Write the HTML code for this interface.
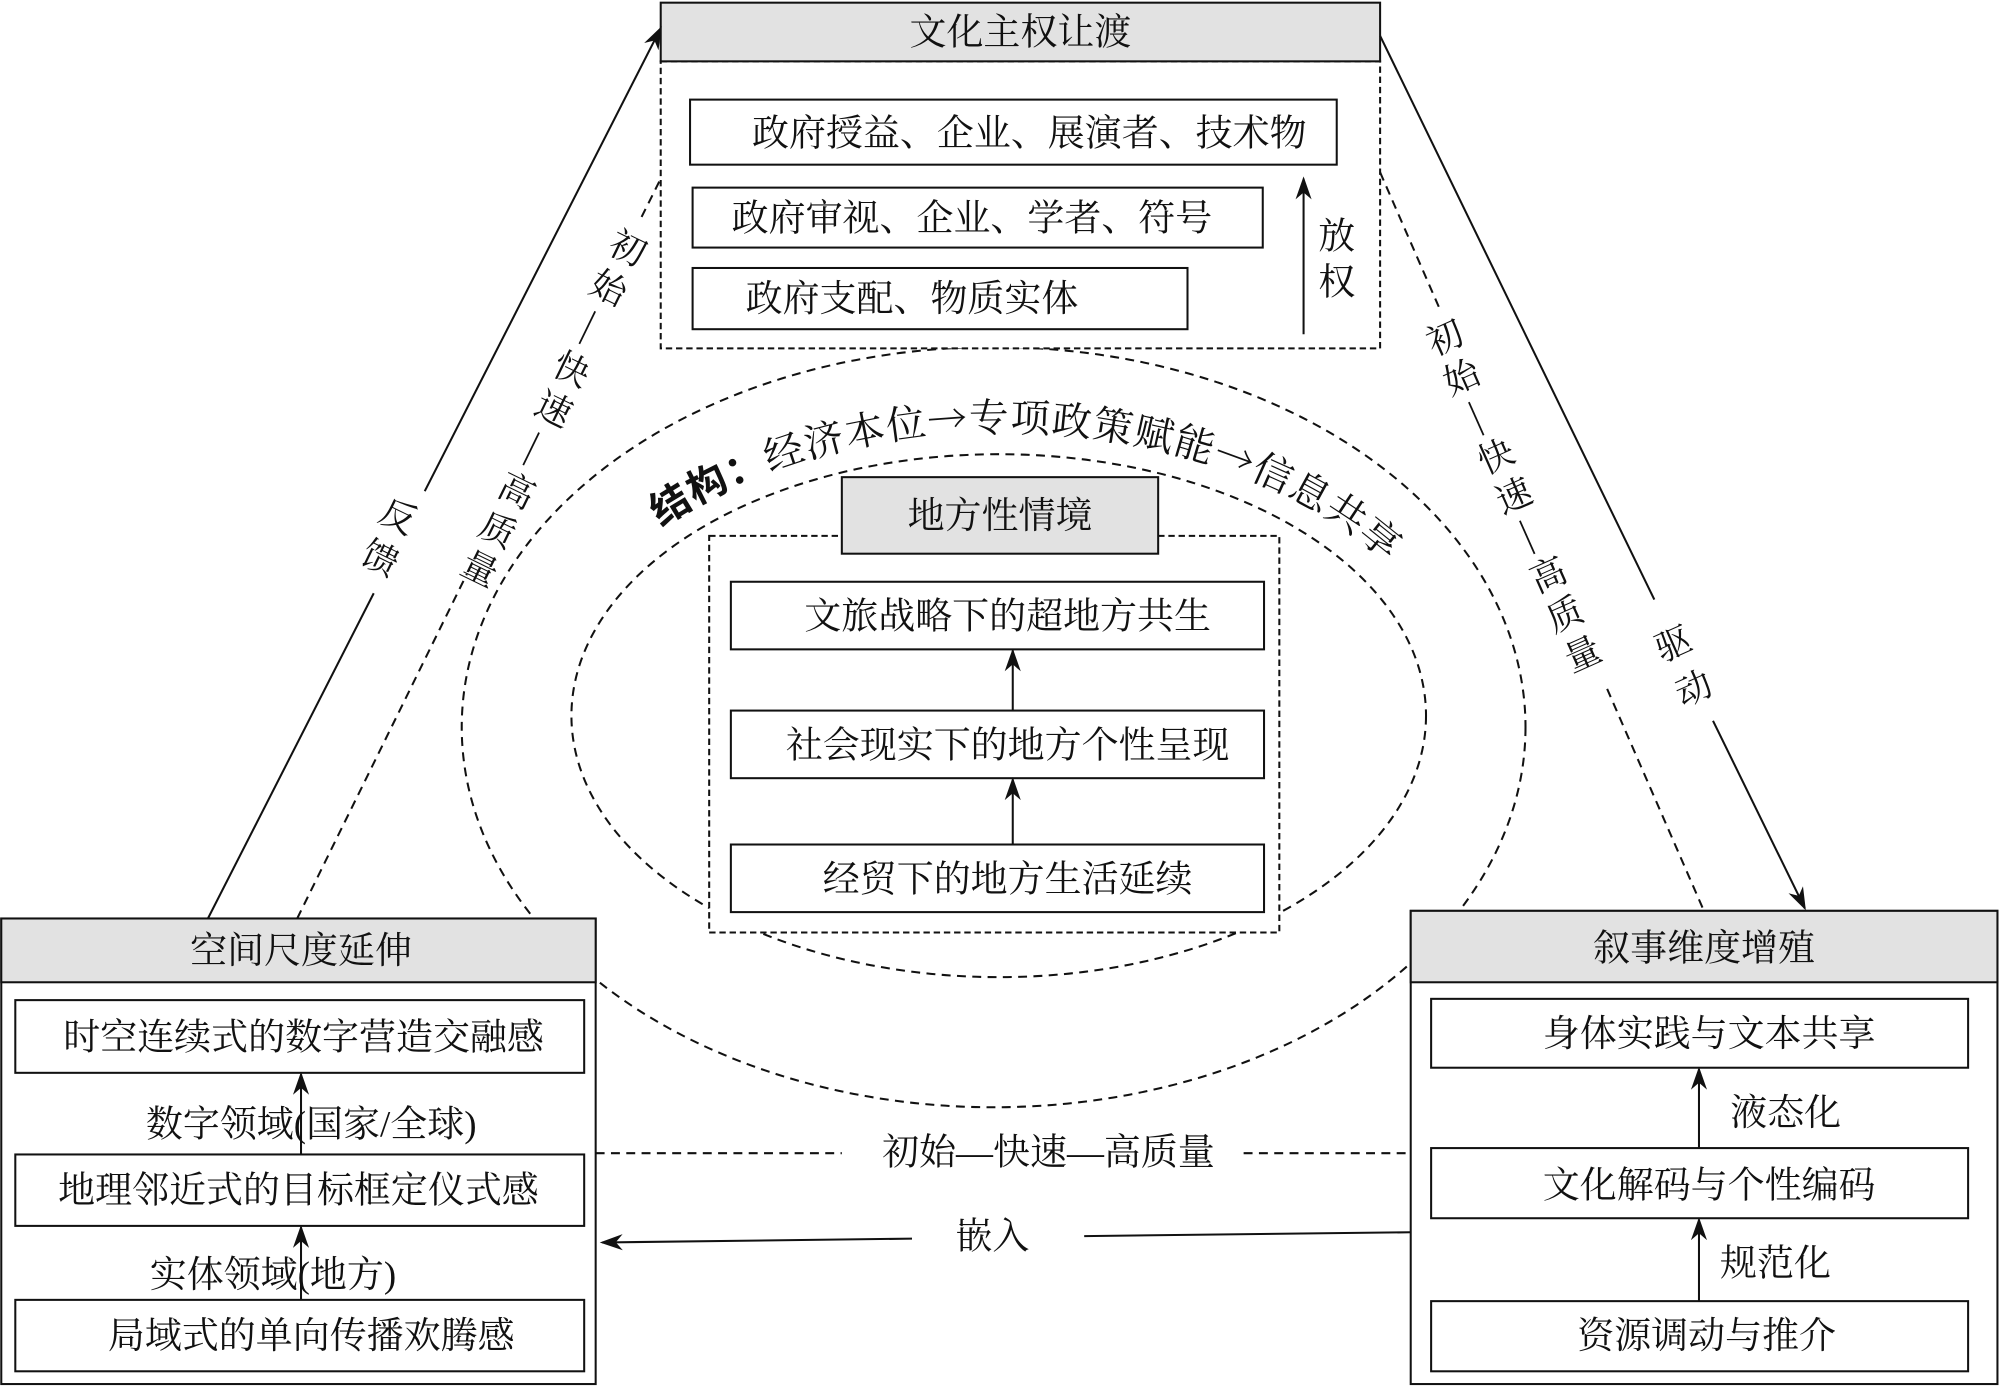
<!DOCTYPE html>
<html><head><meta charset="utf-8"><style>
html,body{margin:0;padding:0;background:#fff}
svg{display:block}
text{font-family:"Liberation Serif","Noto Serif CJK SC",serif;fill:#111}
</style></head><body>
<svg width="2000" height="1388" viewBox="0 0 1568 1088" xmlns="http://www.w3.org/2000/svg">
<defs>
<marker id="ab" viewBox="0 0 10 10" refX="9" refY="5" markerWidth="18" markerHeight="18" orient="auto" markerUnits="userSpaceOnUse"><path d="M0,1.5 L10,5 L0,8.5 L3,5 z" fill="#111"/></marker>
<path id="arc" d="M470,452 A385,268 0 0 1 1100,452" fill="none"/>
</defs>
<g stroke="#111" stroke-width="1.6" fill="none">
<ellipse cx="779" cy="570" rx="417" ry="298" stroke-dasharray="7,5"/>
<ellipse cx="783" cy="561" rx="335" ry="205" stroke-dasharray="7,5"/>
<rect x="518" y="48" width="564" height="225" fill="#fff" stroke-dasharray="5,3"/>
<rect x="518" y="2" width="564" height="46" fill="#e2e2e2"/>
<rect x="541" y="78" width="507" height="51" fill="#fff"/>
<rect x="543" y="147" width="447" height="47" fill="#fff"/>
<rect x="543" y="210" width="388" height="48" fill="#fff"/>
<line x1="1022" y1="262" x2="1022" y2="140" marker-end="url(#ab)"/>
<rect x="556" y="420" width="447" height="311" fill="#fff" stroke-dasharray="5,3"/>
<rect x="660" y="374" width="248" height="60" fill="#e2e2e2"/>
<rect x="573" y="456" width="418" height="53" fill="#fff"/>
<rect x="573" y="557" width="418" height="53" fill="#fff"/>
<rect x="573" y="662" width="418" height="53" fill="#fff"/>
<line x1="794" y1="557" x2="794" y2="510" marker-end="url(#ab)"/>
<line x1="794" y1="662" x2="794" y2="611" marker-end="url(#ab)"/>
<rect x="1" y="720" width="466" height="365" fill="#fff"/>
<rect x="1" y="720" width="466" height="50" fill="#e2e2e2"/>
<rect x="12" y="784" width="446" height="57" fill="#fff"/>
<rect x="12" y="905" width="446" height="56" fill="#fff"/>
<rect x="12" y="1019" width="446" height="56" fill="#fff"/>
<line x1="236" y1="905" x2="236" y2="842" marker-end="url(#ab)"/>
<line x1="236" y1="1019" x2="236" y2="962" marker-end="url(#ab)"/>
<rect x="1106" y="714" width="460" height="371" fill="#fff"/>
<rect x="1106" y="714" width="460" height="56" fill="#e2e2e2"/>
<rect x="1122" y="783" width="421" height="54" fill="#fff"/>
<rect x="1122" y="900" width="421" height="55" fill="#fff"/>
<rect x="1122" y="1020" width="421" height="55" fill="#fff"/>
<line x1="1332" y1="900" x2="1332" y2="838" marker-end="url(#ab)"/>
<line x1="1332" y1="1020" x2="1332" y2="956" marker-end="url(#ab)"/>
<line x1="163" y1="720" x2="293" y2="465"/>
<line x1="333" y1="385" x2="518" y2="22" marker-end="url(#ab)"/>
<line x1="233" y1="720" x2="366" y2="450" stroke-dasharray="7,5"/>
<line x1="503" y1="170" x2="518" y2="140" stroke-dasharray="7,5"/>
<line x1="1082" y1="28" x2="1297" y2="470"/>
<line x1="1343" y1="565" x2="1415" y2="712" marker-end="url(#ab)"/>
<line x1="1082" y1="135" x2="1130" y2="245" stroke-dasharray="7,5"/>
<line x1="1260" y1="540" x2="1335" y2="712" stroke-dasharray="7,5"/>
<line x1="467" y1="904" x2="660" y2="904" stroke-dasharray="7,5"/>
<line x1="975" y1="904" x2="1106" y2="904" stroke-dasharray="7,5"/>
<line x1="1106" y1="966" x2="850" y2="969"/>
<line x1="715" y1="971" x2="472" y2="974" marker-end="url(#ab)"/>
</g>
<g font-size="29" text-anchor="middle" dominant-baseline="central">
<text x="800" y="25">文化主权让渡</text>
<text x="807" y="104">政府授益、企业、展演者、技术物</text>
<text x="762" y="171">政府审视、企业、学者、符号</text>
<text x="715" y="234">政府支配、物质实体</text>
<text x="1048" y="185">放</text>
<text x="1048" y="221">权</text>
<text x="784" y="404">地方性情境</text>
<text x="790" y="483">文旅战略下的超地方共生</text>
<text x="790" y="584">社会现实下的地方个性呈现</text>
<text x="790" y="689">经贸下的地方生活延续</text>
<text x="236" y="745">空间尺度延伸</text>
<text x="238" y="813">时空连续式的数字营造交融感</text>
<text x="244" y="881">数字领域(国家/全球)</text>
<text x="234" y="933">地理邻近式的目标框定仪式感</text>
<text x="214" y="999">实体领域(地方)</text>
<text x="244" y="1047">局域式的单向传播欢腾感</text>
<text x="1336" y="743">叙事维度增殖</text>
<text x="1340" y="810">身体实践与文本共享</text>
<text x="1400" y="872">液态化</text>
<text x="1340" y="929">文化解码与个性编码</text>
<text x="1392" y="990">规范化</text>
<text x="1338" y="1047">资源调动与推介</text>
<text x="822" y="903">初始—快速—高质量</text>
<text x="778" y="969">嵌入</text>
</g>
<g font-size="28" text-anchor="middle" dominant-baseline="central">
<text x="492" y="195" transform="rotate(26 492 195)">初</text>
<text x="477" y="226" transform="rotate(26 477 226)">始</text>
<text x="463" y="258" transform="rotate(116 463 258)">—</text>
<text x="448" y="290" transform="rotate(26 448 290)">快</text>
<text x="434" y="321" transform="rotate(26 434 321)">速</text>
<text x="419" y="353" transform="rotate(116 419 353)">—</text>
<text x="405" y="385" transform="rotate(26 405 385)">高</text>
<text x="390" y="416" transform="rotate(26 390 416)">质</text>
<text x="376" y="446" transform="rotate(26 376 446)">量</text>
<text x="312" y="405" transform="rotate(26 312 405)">反</text>
<text x="298" y="438" transform="rotate(26 298 438)">馈</text>
<text x="1133" y="265" transform="rotate(-24 1133 265)">初</text>
<text x="1146" y="296" transform="rotate(-24 1146 296)">始</text>
<text x="1160" y="327" transform="rotate(66 1160 327)">—</text>
<text x="1173" y="358" transform="rotate(-24 1173 358)">快</text>
<text x="1187" y="389" transform="rotate(-24 1187 389)">速</text>
<text x="1200" y="420" transform="rotate(66 1200 420)">—</text>
<text x="1214" y="451" transform="rotate(-24 1214 451)">高</text>
<text x="1227" y="482" transform="rotate(-24 1227 482)">质</text>
<text x="1241" y="513" transform="rotate(-24 1241 513)">量</text>
<text x="1312" y="505" transform="rotate(-24 1312 505)">驱</text>
<text x="1328" y="540" transform="rotate(-24 1328 540)">动</text>
</g>
<text font-size="31" letter-spacing="1"><textPath href="#arc" startOffset="62"><tspan font-weight="bold" font-family="Liberation Sans,Noto Sans CJK SC,sans-serif">结构：</tspan>经济本位<tspan font-family="Noto Serif CJK SC,serif">→</tspan>专项政策赋能<tspan font-family="Noto Serif CJK SC,serif">→</tspan>信息共享</textPath></text>
</svg>
</body></html>
